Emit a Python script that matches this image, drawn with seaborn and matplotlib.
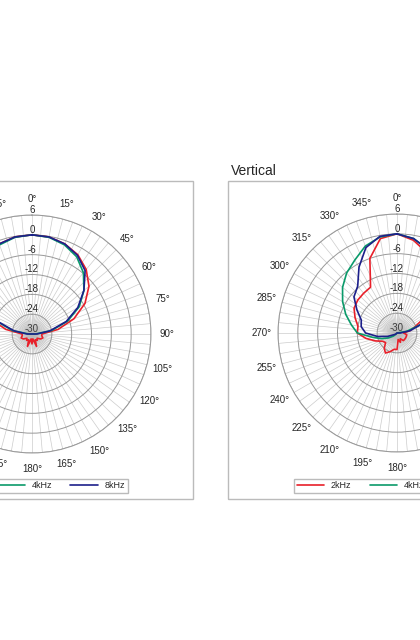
import numpy as np
import pandas as pd
import matplotlib
matplotlib.use("Agg")
import matplotlib.pyplot as plt
import seaborn as sns
from matplotlib.patches import Rectangle

sns.set_style("white")
plt.rcParams['font.family'] = ['Liberation Sans', 'DejaVu Sans']

angles = list(range(0, 370, 10))
freqs = ["2kHz", "4kHz", "8kHz"]
colors = {"2kHz": "#e8202a", "4kHz": "#0a9a6a", "8kHz": "#1c1f8a"}

# Horizontal (0..360 step 10)
h_2k = [0,-0.2,-1,-2.3,-4.5,-7.5,-11.5,-16.5,-22,-27,-27,-26.5,-27,-28,-27.5,-28,-26,-28.5,-27,
        -28.5,-26,-28,-27.5,-28,-27,-26.5,-27,-27,-22,-16.5,-11.5,-7.5,-4.5,-2.3,-1,-0.2,0]
h_4k = [0,-0.3,-1.3,-3,-5.8,-9.5,-13.5,-18.5,-24,-29,-30,-30,-30,-30,-30,-30,-30,-30,-30,
        -30,-30,-30,-30,-30,-30,-30,-30,-29,-24,-18.5,-13.5,-9.5,-5.8,-3,-1.3,-0.3,0]
h_8k = [0,-0.2,-1,-2.5,-5,-9.5,-14,-19,-24.5,-28.5,-30,-30,-30,-30,-30,-30,-30,-30,-30,
        -30,-30,-30,-30,-30,-30,-30,-30,-28.5,-24.5,-19,-14,-9.5,-5,-2.5,-1,-0.2,0]
# Vertical
v_2k = [0,-1.5,-4,-8,-12,-16,-20,-24,-26,-28,-27,-27,-27,-27,-27,-28,-27,-28,-25,
        -25,-24,-23,-24,-25.5,-25,-23,-20.5,-18,-18,-16.5,-15,-14.5,-14.3,-14,-6,-1,0]
v_4k = [0,-1,-3,-6,-10,-14,-18,-22,-27,-30,-30,-30,-30,-30,-30,-30,-30,-30,-30,
        -30,-30,-30,-29.5,-28.5,-27,-25,-22.5,-18,-16,-13.5,-11,-8.5,-6.3,-4.5,-2,-0.5,0]
v_8k = [0,-1,-3,-6,-10,-14,-18,-22,-26,-29,-30,-30,-30,-30,-30,-30,-30,-30,-30,
        -30,-30,-30,-30,-29.5,-29,-27,-24,-20.5,-19,-18.5,-16,-13,-11.5,-7,-2.5,-0.3,0]

W, H = 420, 640
fig = plt.figure(figsize=(W/100, H/100), dpi=100)
R = 119

def frame(x0, y0, x1, y1):
    fig.patches.append(Rectangle((x0/W, 1-y1/H), (x1-x0)/W, (y1-y0)/H,
                       transform=fig.transFigure, fill=False, edgecolor="#bbbbbb", lw=1))

def polar(cx, cy, data, title, tx, legx):
    ax = fig.add_axes([(cx-R)/W, (H-cy-R)/H, 2*R/W, 2*R/H], projection="polar")
    ax.set_theta_zero_location("N")
    ax.set_theta_direction(-1)
    th = np.radians(np.arange(0, 361, 2))
    for rr in [-24, -25.5, -27, -28.2, -29.2]:
        ax.fill_between(th, -30, rr, color="#999999", alpha=0.08, lw=0)
    rows = []
    for f, vals in zip(freqs, data):
        for a, v in zip(angles, vals):
            rows.append({"theta": np.radians(a), "r": v, "f": f})
    df = pd.DataFrame(rows)
    sns.lineplot(data=df, x="theta", y="r", hue="f", palette=colors, sort=False,
                 estimator=None, lw=1.2, ax=ax, legend=False)
    ax.set_ylim(-30, 6)
    ax.set_yticks([-30, -24, -18, -12, -6, 0, 6])
    ax.set_yticklabels(["-30", "-24", "-18", "-12", "-6", "0", "6"], fontsize=7)
    for lab in ax.get_yticklabels():
        lab.set_ha("center")
    ax.set_rlabel_position(0)
    ticks = np.arange(0, 360, 5)
    ax.set_xticks(np.radians(ticks))
    ax.set_xticklabels([f"{t}°" if t % 15 == 0 else "" for t in ticks], fontsize=7)
    ax.tick_params(axis="x", pad=1)
    ax.grid(True, color="#cccccc", lw=0.5)
    ax.yaxis.grid(True, color="#999999", lw=0.7)
    ax.spines["polar"].set_color("#999999")
    ax.spines["polar"].set_linewidth(0.7)
    ax.set_xlabel(""); ax.set_ylabel("")
    fig.text(tx/W, 1-171/H, title, fontsize=10, va="center")
    handles = [plt.Line2D([], [], color=colors[f], lw=1.2) for f in freqs]
    fig.legend(handles, freqs, loc="center", bbox_to_anchor=(legx/W, 1-486/H), ncol=3,
               fontsize=6.5, frameon=True, fancybox=False, edgecolor="#aaaaaa",
               handlelength=3, columnspacing=2, borderpad=0.3)
    return ax

frame(-130, 181, 193, 499)
frame(228, 181, 566, 499)
polar(32, 334, [h_2k, h_4k, h_8k], "Horizontal", -126, 25)
polar(397, 333, [v_2k, v_4k, v_8k], "Vertical", 231, 397)
fig.savefig("out.png", dpi=100)
